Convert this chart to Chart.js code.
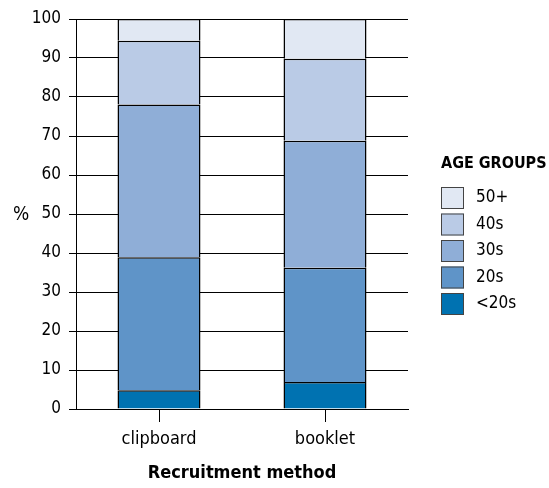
<!DOCTYPE html>
<html>
<head>
<meta charset="utf-8">
<script src="https://cdn.jsdelivr.net/npm/chart.js@4.4.0/dist/chart.umd.min.js"></script>
<style>
  html, body { margin: 0; padding: 0; background: #fff; }
  #wrap { width: 549px; height: 488px; }
</style>
</head>
<body>
<div id="wrap"><canvas id="ageChart"></canvas></div>
<script>
/* Data */
const methods = ['clipboard', 'booklet'];
const ageGroups = ['<20s', '20s', '30s', '40s', '50+'];
const under20 = [4.8, 6.9];
const twenties = [34.1, 29.3];
const thirties = [39.2, 32.6];
const forties = [16.3, 21.0];
const fiftyPlus = [5.6, 10.2];
const yTicks = [0, 10, 20, 30, 40, 50, 60, 70, 80, 90, 100];

const groupColors = ['#0072b1', '#5f94c8', '#8faed7', '#bacbe6', '#e1e8f3'];
const FONT = '"DejaVu Sans Condensed", "DejaVu Sans", sans-serif';
const INK = '#000';

let seriesValues = [under20, twenties, thirties, forties, fiftyPlus];

function makeDatasets() {
    let sets = [];
    let index = 0;
    while (index < ageGroups.length) {
        sets.push({
            label: ageGroups[index],
            data: seriesValues[index],
            backgroundColor: groupColors[index],
            borderColor: INK,
            // only the top edge, so stacked joins stay one line thick
            borderWidth: { top: 1.5, left: 1.5, right: 1.5, bottom: 0 },
            borderSkipped: false,
            barPercentage: 0.5,
            categoryPercentage: 1.0
        });
        index++;
    }
    return sets;
}

/* "%" label and the legend box on the right */
const sideText = {
    id: 'sideText',
    afterDraw: function (chart) {
        let ctx = chart.ctx;
        ctx.save();
        ctx.fillStyle = INK;
        ctx.textAlign = 'center';
        ctx.textBaseline = 'middle';
        ctx.font = '19px ' + FONT;
        ctx.fillText('%', 21, 215);

        ctx.textAlign = 'left';
        ctx.font = 'bold 16px ' + FONT;
        ctx.fillText('AGE GROUPS', 441, 164);

        let sets = chart.data.datasets;
        let row = 0;
        for (let i = sets.length - 1; i >= 0; i--) {
            let top = 187 + row * 26.5;
            ctx.fillStyle = sets[i].backgroundColor;
            ctx.fillRect(441, top, 23, 22);
            ctx.strokeStyle = '#444';
            ctx.lineWidth = 1;
            ctx.strokeRect(441.5, top + 0.5, 22, 21);
            ctx.fillStyle = INK;
            ctx.font = '17px ' + FONT;
            ctx.fillText(sets[i].label, 476, top + 11);
            row++;
        }
        ctx.restore();
    }
};

let ctx = document.getElementById('ageChart').getContext('2d');

let graphic = new Chart(ctx, {
    type: 'bar',
    data: {
        labels: methods,
        datasets: makeDatasets()
    },
    options: {
        responsive: true,
        maintainAspectRatio: false,
        animation: false,
        layout: {
            padding: { left: 0, right: 141, top: 19, bottom: 0 }
        },
        plugins: {
            legend: { display: false },
            tooltip: { enabled: false }
        },
        scales: {
            x: {
                stacked: true,
                grid: {
                    drawOnChartArea: false,
                    offset: false,
                    tickLength: 13,
                    color: INK
                },
                border: { color: INK, width: 1 },
                ticks: {
                    color: INK,
                    font: { family: FONT, size: 18 },
                    padding: 7
                },
                title: {
                    display: true,
                    text: 'Recruitment method',
                    color: INK,
                    font: { family: FONT, size: 18, weight: 'bold' },
                    padding: { top: 2, bottom: 4 }
                },
                afterFit: function (scale) { scale.height = 79; }
            },
            y: {
                stacked: true,
                min: 0,
                max: 100,
                afterBuildTicks: function (scale) {
                    scale.ticks = yTicks.map(function (v) { return { value: v }; });
                },
                grid: {
                    color: INK,
                    lineWidth: 1,
                    tickLength: 7
                },
                border: { color: INK, width: 1 },
                ticks: {
                    color: INK,
                    font: { family: FONT, size: 17 },
                    padding: 8
                },
                afterFit: function (scale) { scale.width = 76; }
            }
        }
    },
    plugins: [sideText]
});
</script>
</body>
</html>
